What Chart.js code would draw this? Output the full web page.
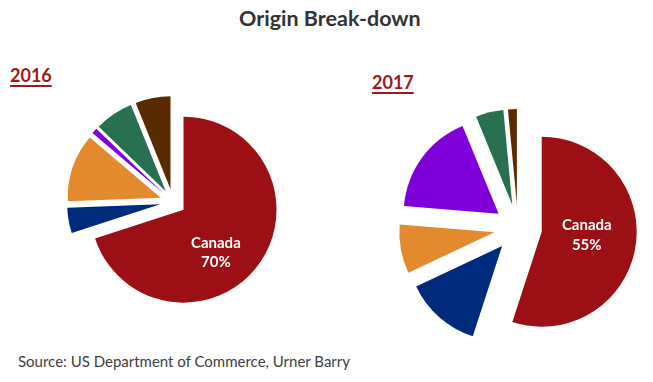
<!DOCTYPE html>
<html><head><meta charset="utf-8">
<script src="https://cdn.jsdelivr.net/npm/chart.js@4/dist/chart.umd.min.js"></script>
<style>
html,body{margin:0;padding:0;background:#fff;width:653px;height:382px;overflow:hidden;font-family:Lato,"Open Sans",sans-serif;}
.t{position:absolute;white-space:nowrap;}
#title{left:239px;top:5px;font-size:21.5px;font-weight:bold;color:#333333;}
.yr{font-size:18px;font-weight:bold;color:#9e1a1a;text-decoration:underline;text-decoration-thickness:2px;text-underline-offset:3px;}
#y16{left:10px;top:64px;}
#y17{left:372px;top:71px;}
#src{left:18px;top:352px;font-size:15px;color:#404040;}
canvas{position:absolute;}
#c16{left:53px;top:82px;}
#c17{left:393px;top:103px;}
</style></head>
<body>
<div class="t" id="title">Origin Break-down</div>
<div class="t yr" id="y16">2016</div>
<div class="t yr" id="y17">2017</div>
<div class="t" id="src">Source: US Department of Commerce, Urner Barry</div>
<canvas id="c16" width="240" height="240"></canvas>
<canvas id="c17" width="250" height="250"></canvas>
<script>
const categories = ["Canada", "Origin B", "Origin C", "Origin D", "Origin E", "Origin F"];
const share2016 = [70, 4.4, 11.8, 1.0, 6.7, 6.1];
const share2017 = [55, 13, 8.3, 17.5, 4.7, 1.5];
const sliceColors = ["#9c1015", "#002a7c", "#e38a2f", "#8000dc", "#28704f", "#5a2a00"];

// Excel-style exploded slices: translate each library-computed arc along its mid angle
const Arc = Chart.registry.getElement("arc");
Arc.prototype.draw = function (ctx) {
  const { x, y, startAngle, endAngle, outerRadius } = this;
  if (endAngle - startAngle <= 0) return;
  const d = this.options.offset || 0;
  const mid = (startAngle + endAngle) / 2;
  ctx.save();
  ctx.translate(Math.cos(mid) * d, Math.sin(mid) * d);
  ctx.beginPath();
  ctx.moveTo(x, y);
  ctx.arc(x, y, outerRadius, startAngle, endAngle);
  ctx.closePath();
  ctx.fillStyle = this.options.backgroundColor;
  ctx.fill();
  ctx.restore();
};

const canadaLabel = {
  id: "canadaLabel",
  afterDatasetsDraw(chart, args, opts) {
    const arc = chart.getDatasetMeta(0).data[0];
    const p = arc.getCenterPoint();
    const v = chart.data.datasets[0].data[0];
    const ctx = chart.ctx;
    ctx.save();
    ctx.fillStyle = "#ffffff";
    ctx.font = "bold 15px Lato, 'Open Sans', sans-serif";
    ctx.textAlign = "center";
    ctx.textBaseline = "middle";
    ctx.fillText(chart.data.labels[0], p.x + opts.dx, p.y + opts.dy);
    ctx.fillText(Math.round(v) + "%", p.x + opts.dx, p.y + opts.dy + opts.gap);
    ctx.restore();
  }
};

function makePie(id, values, radius, offset, lbl) {
  return new Chart(document.getElementById(id), {
    type: "pie",
    data: {
      labels: categories,
      datasets: [{
        data: values,
        backgroundColor: sliceColors,
        borderWidth: 0,
        offset: offset,
        hoverOffset: 0
      }]
    },
    options: {
      responsive: false,
      animation: false,
      radius: radius,
      layout: { padding: 0 },
      events: [],
      plugins: {
        legend: { display: false },
        tooltip: { enabled: false },
        canadaLabel: lbl
      }
    },
    plugins: [canadaLabel]
  });
}

makePie("c16", share2016, 93, 13, { dx: 0, dy: 10, gap: 19 });
makePie("c17", share2017, 95, 24, { dx: 10, dy: -12, gap: 20 });
</script>
</body></html>
